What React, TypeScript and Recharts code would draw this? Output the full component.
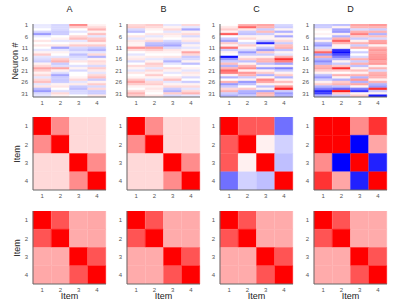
import { BarChart, Bar, Cell, XAxis, YAxis } from 'recharts';

// neuron responses, one array per item column (32 neurons each)
const neuronA = [
  [-0.08, -0.08, 0, -0.15, -0.4, -0.08, 0, 0.1, 0, 0.1, 0, -0.1, 0.05, 0.2, -0.1, -0.15, -0.2, 0.05, 0.15, 0.35, 0.2, 0.05, 0.15, -0.1, 0.15, 0.25, -0.1, 0.1, -0.25, -0.4, -0.15, -0.1],
  [-0.15, -0.15, -0.15, -0.2, -0.2, 0, 0.05, -0.1, 0, 0.1, -0.35, -0.1, 0.05, 0, -0.1, 0.2, 0.3, -0.2, -0.12, 0.35, 0.05, -0.12, -0.35, -0.2, -0.2, -0.2, 0.05, 0.1, 0, -0.12, 0.15, 0.05],
  [0.45, 0.2, 0, -0.1, 0, 0.15, 0.25, -0.1, 0.05, 0.2, -0.15, -0.2, -0.1, -0.25, -0.15, -0.1, 0.1, 0, -0.12, 0.05, -0.15, 0, 0, 0.05, 0.15, -0.1, 0.08, -0.2, -0.25, -0.15, -0.15, 0],
  [0.05, 0.15, 0.3, 0.05, 0.25, -0.1, 0.2, 0.25, 0.05, 0.2, -0.2, -0.3, -0.1, 0.15, -0.3, 0.05, 0.15, 0.1, -0.15, 0.2, 0.08, -0.1, 0.15, 0.25, -0.2, 0.05, 0.2, -0.15, 0.15, -0.2, -0.2, 0.1],
];
const neuronB = [
  [0.15, 0.2, -0.15, -0.25, 0, 0.1, -0.1, 0.1, 0.05, 0.05, 0.4, 0.15, 0, -0.1, 0.05, 0.1, -0.15, 0, 0.15, 0.05, -0.1, 0.1, 0, 0.05, 0.2, 0.35, 0.2, 0.05, 0, 0.15, 0.3, 0.2],
  [0.2, 0.15, 0.05, 0, 0.1, -0.1, 0.05, 0.15, -0.25, -0.3, 0.35, 0.2, 0.05, 0, 0.08, -0.1, 0.05, 0.2, 0.15, -0.1, 0.15, 0.05, 0.2, 0.05, -0.1, 0.15, 0.2, 0.05, 0.1, 0.05, 0, 0.1],
  [-0.1, 0.05, 0.15, -0.1, 0.1, 0.05, 0, -0.15, -0.25, -0.35, -0.15, 0.1, 0.05, 0, 0.1, -0.15, -0.3, -0.1, 0, 0.15, 0.05, -0.1, 0, 0.1, 0.25, -0.1, 0.05, 0.15, -0.2, -0.3, 0.2, -0.15],
  [0.15, -0.1, -0.35, 0.05, 0.15, -0.15, 0.05, 0.1, -0.15, 0.05, -0.1, 0.05, 0.35, 0.15, -0.2, -0.15, 0.05, -0.25, 0, 0.05, -0.1, 0.1, 0.05, -0.15, 0, -0.2, 0.05, 0.15, -0.1, 0.15, 0.3, -0.1],
];
const neuronC = [
  [0, 0.1, 0.2, 0.05, 0.65, 0, -0.2, -0.35, 0.2, 0.05, 0.55, -0.2, 0.05, 0, -0.95, -0.4, -0.2, 0.25, -0.3, 0.3, 0.6, 0.5, 0.05, -0.3, 0, 0.3, -0.4, -0.2, 0.15, 0.3, -0.2, -0.3],
  [0.3, 0.6, 0.1, -0.2, -0.25, 0.05, 0.15, 0, -0.15, 0.2, 0.05, -0.15, -0.4, -0.2, 0.05, 0.2, -0.25, 0.05, 0.3, 0.45, 0.05, 0.4, 0.3, -0.2, 0.05, -0.4, -0.25, 0, 0.2, -0.3, -0.35, -0.2],
  [0.35, 0.3, -0.2, 0.25, -0.2, 0.05, 0.05, -0.2, -0.85, 0.05, -0.2, -0.4, 0.2, -0.2, 0.05, 0.3, 0.3, -0.25, 0.05, -0.4, 0.05, 0.2, -0.3, 0.05, 0.45, 0.35, 0.05, -0.25, 0.05, -0.35, 0.3, 0.25],
  [-0.15, -0.2, 0.05, -0.3, 0.05, -0.35, 0.05, 0.15, -0.2, 0.25, 0.3, -0.25, 0.05, -0.1, 0.3, 0.8, 0.5, -0.35, 0.05, -0.5, -0.2, 0.05, 0.2, -0.3, 0.05, 0.25, 0.05, 0.4, 0.85, -0.2, -0.4, -0.3],
];
const neuronD = [
  [-0.2, -0.2, 0.05, 0, 0.05, 0, -0.2, 0.05, -0.3, -0.4, -0.15, 0.2, 0.6, -0.4, 0.3, -0.3, -0.45, -0.3, 0.3, 0.35, 0.2, 0.05, -0.25, -0.4, -0.2, 0.05, 0.2, -0.3, -0.5, -0.85, -0.75, -0.3],
  [-0.25, 0.05, -0.35, -0.4, 0.05, -0.3, 0.3, 0.6, 0.3, 0.05, 0.05, -0.8, -0.95, -0.7, -0.5, -0.3, 0.05, -0.2, 0.2, 0.8, 0.2, 0, 0.3, 0.05, -0.3, 0.2, 0.3, -0.25, -0.6, 0.9, 0.2, -0.2],
  [0.35, 0.3, -0.15, 0.3, 0.5, 0.2, -0.2, 0.05, 0.3, -0.2, 0.3, 0, -0.2, 0, -0.15, 0.3, -0.2, 0.3, -0.25, 0.05, 0.25, 0.05, 0.3, -0.3, 0.4, -0.3, 0.35, 0.05, -0.5, -0.8, 0.05, 0.2],
  [0.4, 0.3, -0.2, 0.3, -0.3, 0.25, -0.15, 0.35, 0.4, 0.05, 0.3, 0.4, 0.35, 0.4, 0.4, 0.45, 0.35, 0.4, 0.05, 0.3, -0.15, 0.3, 0.35, 0.3, 0.05, 0.3, -0.3, -0.4, 0.8, -0.2, 0.05, -0.9],
];

// item x item similarity (middle row)
const simA = [[1, 0.45, 0.15, 0.15], [0.45, 1, 0.15, 0.15], [0.15, 0.15, 1, 0.45], [0.15, 0.15, 0.45, 1]];
const simB = [[1, 0.45, 0.15, 0.15], [0.45, 1, 0.15, 0.15], [0.15, 0.15, 1, 0.45], [0.15, 0.15, 0.45, 1]];
const simC = [[1, 0.65, 0.65, -0.56], [0.65, 1, 0.06, -0.18], [0.65, 0.06, 1, -0.25], [-0.56, -0.18, -0.25, 1]];
const simD = [[1, 1, 0.45, 0.8], [1, 1, -1, 0.35], [0.45, -1, 1, -0.87], [0.8, 0.35, -0.87, 1]];

// target similarity (bottom row)
const targetA = [[1, 0.67, 0.33, 0.34], [0.67, 1, 0.33, 0.34], [0.33, 0.33, 1, 0.67], [0.34, 0.34, 0.67, 1]];
const targetB = [[1, 0.67, 0.33, 0.33], [0.67, 1, 0.33, 0.33], [0.33, 0.33, 1, 0.67], [0.33, 0.33, 0.67, 1]];
const targetC = [[1, 0.67, 0.33, 0.33], [0.67, 1, 0.33, 0.33], [0.33, 0.33, 1, 0.67], [0.33, 0.33, 0.67, 1]];
const targetD = [[1, 0.67, 0.33, 0.33], [0.67, 1, 0.33, 0.33], [0.33, 0.33, 1, 0.67], [0.33, 0.33, 0.67, 1]];

const itemTicks = ['1', '2', '3', '4'];
const neuronTicks = [1, 6, 11, 16, 21, 26, 31];
const panelTitles = ['A', 'B', 'C', 'D'];

const FONT = '"Liberation Sans", Arial, sans-serif';
const FRAME = '#666';

function heat(v: number) {
  const t = Math.min(1, Math.abs(v));
  const c = Math.round(255 * (1 - t));
  return v >= 0 ? `rgb(255,${c},${c})` : `rgb(${c},${c},255)`;
}

const colX = [33, 127, 220, 314];
const rowY = [24, 117, 211];
const SIZE = 73;

function Heat({ matrix, left, top }: { matrix: number[][]; left: number; top: number }) {
  const n = matrix[0].length;
  const data = matrix.map((col, c) => {
    const d: Record<string, number | string> = { name: itemTicks[c] };
    col.forEach((_, r) => (d[`r${r}`] = 1));
    return d;
  });
  const yTicks = n === 4 ? [0.5, 1.5, 2.5, 3.5] : neuronTicks.map(t => t - 0.5);
  const tickStyle = { fontSize: 6, fill: '#555', fontFamily: FONT };
  return (
    <div style={{ position: 'absolute', left: left - 22, top: top - 4 }}>
      <BarChart width={99} height={91} data={data} margin={{ top: 4, right: 4, left: 0, bottom: 0 }}
        barCategoryGap={0} barGap={0}>
        <XAxis dataKey="name" height={14} tick={tickStyle} tickLine={false} stroke={FRAME} tickMargin={1} tickSize={3} />
        <XAxis xAxisId="t" dataKey="name" orientation="top" height={0} tick={false} stroke={FRAME} />
        <YAxis type="number" domain={[0, n]} reversed ticks={yTicks} width={22} tick={tickStyle} tickLine={false}
          tickFormatter={(v: number) => String(v + 0.5)} stroke={FRAME} allowDataOverflow tickSize={3} tickMargin={2} />
        <YAxis yAxisId="r" type="number" domain={[0, n]} orientation="right" width={0} tick={false} stroke={FRAME} />
        {matrix[0].map((_, r) => (
          <Bar key={r} dataKey={`r${r}`} stackId="s" isAnimationActive={false}>
            {matrix.map((col, c) => (
              <Cell key={c} fill={heat(col[r])} stroke={heat(col[r])} strokeWidth={0.4} />
            ))}
          </Bar>
        ))}
      </BarChart>
    </div>
  );
}

export default function App() {
  const rows = [
    [neuronA, neuronB, neuronC, neuronD],
    [simA, simB, simC, simD],
    [targetA, targetB, targetC, targetD],
  ];
  const label = { position: 'absolute' as const, fontFamily: FONT, fontSize: 9, color: '#222', whiteSpace: 'nowrap' as const };
  return (
    <div style={{ position: 'absolute', left: 0, top: 0, width: 415, height: 305, background: '#fff' }}>
      {rows.map((row, ri) => row.map((m, ci) => <Heat key={`${ri}-${ci}`} matrix={m} left={colX[ci]} top={rowY[ri]} />))}
      {panelTitles.map((t, i) => (
        <div key={t} style={{ ...label, left: colX[i], width: SIZE, top: 4, textAlign: 'center' }}>{t}</div>
      ))}
      {itemTicks.map((_, i) => (
        <div key={i} style={{ ...label, left: colX[i], width: SIZE, top: 291, textAlign: 'center' }}>Item</div>
      ))}
      <div style={{ ...label, left: 15, top: rowY[0] + SIZE / 2, transform: 'translate(-50%,-50%) rotate(-90deg)' }}>Neuron #</div>
      <div style={{ ...label, left: 17, top: rowY[1] + SIZE / 2, transform: 'translate(-50%,-50%) rotate(-90deg)' }}>Item</div>
      <div style={{ ...label, left: 17, top: rowY[2] + SIZE / 2, transform: 'translate(-50%,-50%) rotate(-90deg)' }}>Item</div>
    </div>
  );
}
